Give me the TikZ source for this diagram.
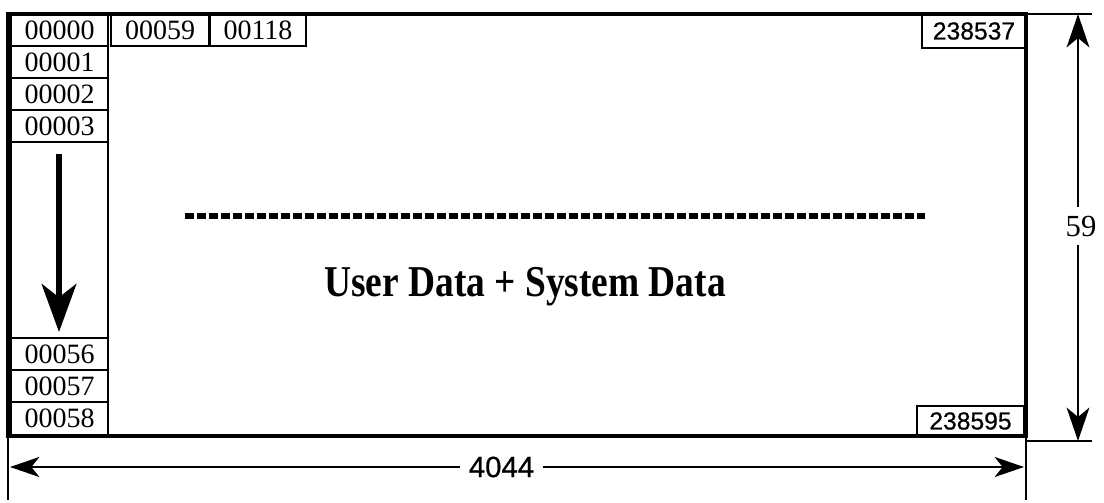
\documentclass[tikz,border=0pt]{standalone}
\usepackage{fontspec}
\setmainfont{Liberation Serif}
\newfontfamily\hsans[FakeBold=0.6]{Liberation Sans}
\usetikzlibrary{arrows.meta}
\tikzset{
  cell/.style={draw, line width=1.6pt, rectangle, inner sep=0pt, font=\fontsize{21pt}{21pt}\selectfont},
  rcell/.style={draw, line width=1.6pt, rectangle, inner sep=0pt, fill=white, font=\hsans\fontsize{18.5pt}{18.5pt}\selectfont},
  frame/.style={line width=3.5pt},
  extline/.style={line width=1.2pt},
  dimarrow/.style={line width=1.7pt, -{Stealth[length=22pt, width=15pt, inset=6pt]}},
  vdimarrow/.style={line width=2.1pt, -{Stealth[length=25pt, width=17pt, inset=7pt]}},
  flowarrow/.style={line width=4.5pt, -{Stealth[length=36pt, width=26pt, inset=10pt]}},
  dotline/.style={line width=4.5pt, dash pattern=on 6.75pt off 2.25pt},
  dimlabel/.style={inner sep=0pt}
}
\begin{document}
\begin{tikzpicture}[x=0.75pt, y=-0.75pt]
\useasboundingbox (0,0) rectangle (1104,503);
% left column cells
\node[cell, minimum width=97*0.75pt, minimum height=32*0.75pt] (c0) at (59.5,30) {00000};
\node[cell, minimum width=97*0.75pt, minimum height=32*0.75pt] (c1) at (59.5,62) {00001};
\node[cell, minimum width=97*0.75pt, minimum height=32*0.75pt] (c2) at (59.5,94) {00002};
\node[cell, minimum width=97*0.75pt, minimum height=32*0.75pt] (c3) at (59.5,126) {00003};
\node[cell, minimum width=97*0.75pt, minimum height=196*0.75pt] (cmid) at (59.5,240) {};
\node[cell, minimum width=97*0.75pt, minimum height=32*0.75pt] (c56) at (59.5,354) {00056};
\node[cell, minimum width=97*0.75pt, minimum height=32*0.75pt] (c57) at (59.5,386) {00057};
\node[cell, minimum width=97*0.75pt, minimum height=33*0.75pt] (c58) at (59.5,418.5) {00058};
% top row cells
\node[cell, minimum width=98*0.75pt, minimum height=32*0.75pt] (t59) at (160,30) {00059};
\node[cell, minimum width=96*0.75pt, minimum height=32*0.75pt] (t118) at (258,30) {00118};
% right cells
\node[rcell, minimum width=104*0.75pt, minimum height=34*0.75pt] (r537) at (974,31) {238537};
\node[rcell, minimum width=107*0.75pt, minimum height=30*0.75pt] (r595) at (970.5,421) {238595};
% outer frame
\draw[frame] (8,14) rectangle (1026,436);
% flow arrow in left column
\coordinate (fa1) at (59,154);
\coordinate (fa2) at (59,332);
\draw[flowarrow] (fa1) -- (fa2);
% dotted line
\coordinate (d1) at (185,216);
\coordinate (d2) at (925,216);
\draw[dotline] (d1) -- (d2);
% main label
\node[font=\bfseries\fontsize{33pt}{33pt}\selectfont, xscale=0.85] (main) at (525,287) {User Data + System Data};
% vertical dimension
\coordinate (et1) at (1026,14);
\coordinate (et2) at (1092,14);
\coordinate (eb1) at (1026,441);
\coordinate (eb2) at (1092,441);
\draw[extline] (et1) -- (et2);
\draw[extline] (eb1) -- (eb2);
\coordinate (vtop) at (1078,14);
\coordinate (vbot) at (1078,441);
\node[dimlabel, font=\fontsize{23pt}{23pt}\selectfont, minimum height=37*0.75pt] (n59) at (1081,226) {59};
\draw[vdimarrow] (vtop |- n59.north) -- (vtop);
\draw[vdimarrow] (vbot |- n59.south) -- (vbot);
% horizontal dimension
\coordinate (el1) at (8,436);
\coordinate (el2) at (8,500);
\coordinate (er1) at (1026,436);
\coordinate (er2) at (1026,500);
\draw[extline] (el1) -- (el2);
\draw[extline] (er1) -- (er2);
\coordinate (hl) at (10,467);
\coordinate (hr) at (1024,467);
\node[dimlabel, font=\hsans\fontsize{22pt}{22pt}\selectfont, minimum width=83*0.75pt] (n4044) at (501.5,467) {4044};
\draw[dimarrow] (n4044.west) -- (hl);
\draw[dimarrow] (n4044.east) -- (hr);
\end{tikzpicture}
\end{document}
